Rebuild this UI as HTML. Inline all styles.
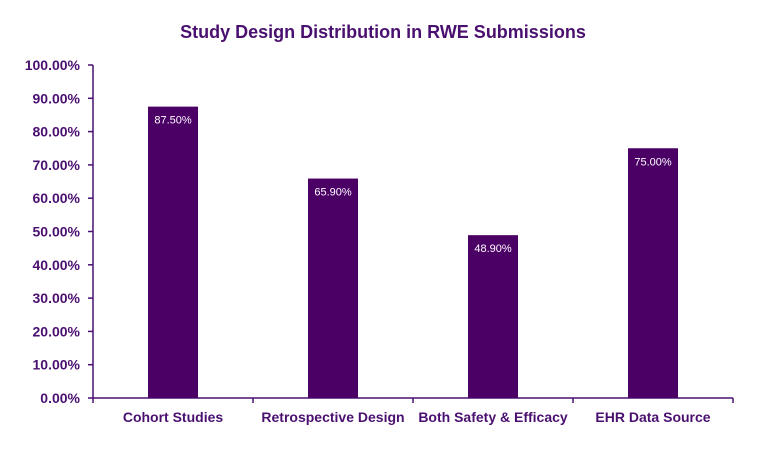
<!DOCTYPE html>
<html><head><meta charset="utf-8"><style>
body{margin:0;background:#fff;width:768px;height:444px;overflow:hidden}
svg text{font-family:"Liberation Sans",sans-serif}
</style></head><body>
<svg id="chart" width="768" height="444">
<text x="383" y="38" text-anchor="middle" font-size="18" font-weight="bold" fill="#4a1070">Study Design Distribution in RWE Submissions</text>
<g id="plot"></g>
</svg>
<script>
const categories=["Cohort Studies","Retrospective Design","Both Safety & Efficacy","EHR Data Source"];
const values=[87.5,65.9,48.9,75.0];
const ticks=[0,10,20,30,40,50,60,70,80,90,100];
const X0=93,W=640,Y0=398,H=333,C="#4a1070";
const g=document.getElementById('plot');
const ns="http://www.w3.org/2000/svg";
const y=v=>Y0-v/100*H;
const bw=W/categories.length;
function mk(t,a,txt){const e=document.createElementNS(ns,t);for(const k in a)e.setAttribute(k,a[k]);if(txt!==undefined)e.textContent=txt;g.appendChild(e);return e;}
let ax=mk('line',{x1:X0,y1:y(100),x2:X0,y2:Y0,stroke:C,'stroke-width':1.5});


let bx=mk('line',{x1:X0,y1:Y0,x2:X0+W,y2:Y0,stroke:C,'stroke-width':1.5});


ticks.forEach(t=>{
 mk('line',{x1:X0-5,y1:y(t),x2:X0,y2:y(t),stroke:C,'stroke-width':1.5});
 const l=mk('text',{x:X0-13,y:y(t)+5,'text-anchor':'end','font-size':14,'font-weight':'bold',fill:C},t.toFixed(2)+'%');
 
 
});
for(let i=0;i<=categories.length;i++)mk('line',{x1:X0+i*bw,y1:Y0,x2:X0+i*bw,y2:Y0+5,stroke:C,'stroke-width':1.5});
categories.forEach((c,i)=>{
 const cx=X0+bw*(i+0.5);
 const r=mk('rect',{x:cx-25,y:y(values[i]),width:50,height:Y0-y(values[i]),fill:'#4b0066'});
 
 
 const v=mk('text',{x:cx,y:y(values[i])+17,'text-anchor':'middle','font-size':11,fill:'#fff'},values[i].toFixed(2)+'%');
 
 
 const l=mk('text',{x:cx,y:Y0+24,'text-anchor':'middle','font-size':14,'font-weight':'bold',fill:C},c);
 
 
});
</script>
</body></html>
